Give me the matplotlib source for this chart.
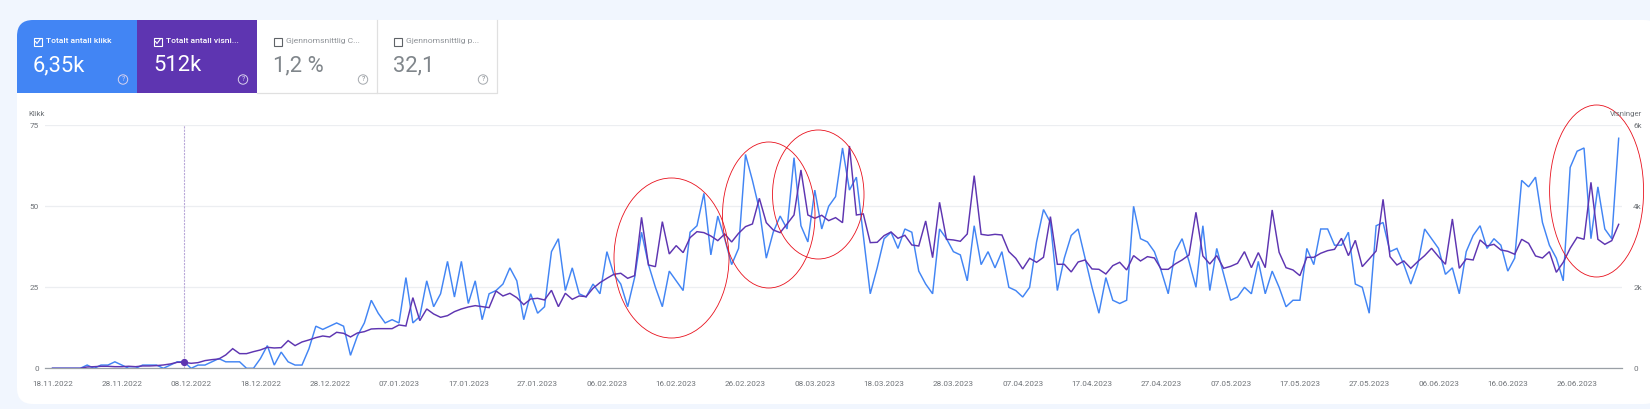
import matplotlib
matplotlib.use("Agg")
import matplotlib.pyplot as plt
from matplotlib.patches import Ellipse, FancyBboxPatch, Rectangle, Circle, PathPatch
from matplotlib.path import Path
import pandas as pd

plt.rcParams['font.family'] = ['Roboto', 'DejaVu Sans']

klikk = [0,0,0,0,0,1,0,1,1,2,1,0,0,1,1,1,0,1,2,2,0,1,1,2,3,2,2,2,0,0,3,7,1,5,2,1,1,6,13,12,
         13,14,13,4,10,14,21,17,14,15,14,28,14,16,27,19,23,33,22,33,20,27,15,23,24,26,31,27,15,23,
         17,19,36,40,24,31,23,22,26,23,36,29,26,19,28,42,32,25,19,30,27,24,42,44,54,35,47,40,32,37,
         66,58,49,34,42,47,43,65,44,39,55,43,50,53,68,55,59,41,23,31,40,42,37,43,42,30,26,23,43,40,
         36,35,27,44,32,36,31,36,25,24,22,25,39,49,45,24,34,41,43,34,25,17,28,21,20,21,50,40,39,36,
         30,23,36,40,33,25,44,24,37,29,21,22,25,23,33,23,30,25,19,21,21,37,32,43,43,38,38,42,26,25,
         17,44,45,36,37,32,26,32,43,40,37,29,31,23,36,41,44,37,40,38,30,34,58,56,59,45,38,34,27,62,
         67,68,40,56,43,40,71]
visninger = [0,0,0,0,0,33,40,50,50,40,40,50,40,58,58,66,82,107,148,148,123,140,190,214,230,330,485,362,362,411,
             453,518,502,510,683,560,650,700,757,798,774,889,864,774,872,905,971,979,979,979,1070,1045,1745,1177,1465,1341,1259,1300,1399,1465,
             1514,1547,1522,1498,1909,1786,1852,1745,1572,1712,1728,1687,1926,1522,1852,1704,1786,1770,1975,2115,2222,2321,2346,2222,2288,3728,2551,2510,3621,2823,
             3029,2856,3226,3374,3350,3267,3152,3317,3119,3333,3498,3564,4197,3596,3415,3350,3564,3786,4897,3786,3704,3778,3646,3720,3596,5489,3786,3811,3103,3111,
             3276,3366,3210,3284,3045,3020,3638,2732,4099,3185,3169,3136,3317,4757,3308,3284,3308,3292,2881,2716,2453,2716,2617,2741,3745,2568,2568,2379,2625,2675,
             2453,2444,2329,2535,2617,2428,2782,2650,2757,2724,2444,2444,2576,2675,2798,3852,2774,2576,2782,2469,2518,2592,2880,2485,2856,2485,3909,2864,2485,2428,
             2288,2740,2740,2840,2905,2938,3210,2782,3160,2510,2700,2897,4172,2757,2551,2650,2469,2634,2782,2963,2757,2568,3687,2469,2700,2675,3169,3020,3061,2922,
             2889,2815,3185,3086,2774,2724,2880,2370,2617,2963,3234,3185,4592,3185,3061,3152,3555]
start_date = "2022-11-18"
tick_step_days = 10
hover_index = 19
left_ticks = [0, 25, 50, 75]
right_ticks = [0, 2000, 4000, 6000]
right_labels = ["0", "2k", "4k", "6k"]
tile_titles = ["Totalt antall klikk", "Totalt antall visni...", "Gjennomsnittlig C...", "Gjennomsnittlig p..."]
tile_values = ["6,35k", "512k", "1,2 %", "32,1"]

BG = "#f1f6fe"; BLUE = "#4285f4"; PURPLE = "#5e35b1"; GREY = "#6f7378"; BORDER = "#e0e0e0"
W, H = 1650, 409
fig = plt.figure(figsize=(W/100, H/100), dpi=100, facecolor=BG)

def px_axes(z):
    a = fig.add_axes([0, 0, 1, 1], zorder=z)
    a.set_xlim(0, W); a.set_ylim(H, 0); a.axis("off"); a.patch.set_alpha(0)
    return a

back = px_axes(0)
back.add_patch(FancyBboxPatch((17+16, 20+16), W-17-32+10, 404-20-32, boxstyle="round,pad=16",
                              fc="white", ec="none"))
# tiles
tile_x = [17, 137, 257, 377]
tile_w = 120
tile_top, tile_bot = 20, 93
r = 16
v = [(17, tile_bot), (17, tile_top+r), (17, tile_top), (17+r, tile_top), (137, tile_top), (137, tile_bot), (17, tile_bot)]
c = [Path.MOVETO, Path.LINETO, Path.CURVE3, Path.CURVE3, Path.LINETO, Path.LINETO, Path.CLOSEPOLY]
back.add_patch(PathPatch(Path(v, c), fc=BLUE, ec="none"))
back.add_patch(Rectangle((137, tile_top), tile_w, tile_bot-tile_top, fc=PURPLE, ec="none"))
for x0 in tile_x[2:]:
    back.plot([x0, x0+tile_w-0.5, x0+tile_w-0.5], [tile_bot-0.5, tile_bot-0.5, tile_top], color=BORDER, lw=0.9)
for i, x0 in enumerate(tile_x):
    on = i < 2
    col = "white" if on else "#80868b"
    back.add_patch(Rectangle((x0+16.5, 37.5), 8, 8, fc="none", ec="white" if on else "#5f6368", lw=0.8))
    if on:
        back.plot([x0+18.5, x0+20, x0+23], [41.5, 43.5, 39.5], color="white", lw=0.8)
    back.text(x0+29, 41, tile_titles[i], color="white" if on else "#8f9398", fontsize=6.1,
              fontweight="medium" if on else "normal", va="center", ha="left")
    back.text(x0+16, 65.5, tile_values[i], color=col, fontsize=15.8, va="center", ha="left")
    back.add_patch(Circle((x0+106, 79.5), 4.7, fc="none", ec="#d9d2ee" if on else "#a5a9ae", lw=0.7))
    back.text(x0+106, 79.6, "?", color="#d9d2ee" if on else "#80868b", fontsize=5, ha="center", va="center")

# chart
L, R, T, B = 44.6, 1622, 125.3, 368.3
ax = fig.add_axes([L/W, 1-B/H, (R-L)/W, (B-T)/H], zorder=1)
ax.patch.set_alpha(0)
dates = pd.date_range(start_date, periods=len(klikk))
px_day = 6.93
x0_date = dates[0] - pd.Timedelta(days=(52.5-L)/px_day)
x1_date = dates[0] + pd.Timedelta(days=(R-52.5)/px_day)
ax.set_xlim(x0_date, x1_date)
ax.set_ylim(0, 75)
ax.set_yticks(left_ticks)
ax.grid(axis="y", color="#eceef1", lw=0.9)
ax.set_axisbelow(True)
for s in ["top", "right", "left"]:
    ax.spines[s].set_visible(False)
ax.spines["bottom"].set_color("#9aa0a6"); ax.spines["bottom"].set_linewidth(0.9)
ax.tick_params(axis="y", length=0, pad=4, labelsize=5.9, labelcolor=GREY)
ax.tick_params(axis="x", length=0, pad=9, labelsize=5.9, labelcolor=GREY)
ticks = dates[::tick_step_days]
ax.set_xticks(ticks)
ax.set_xticklabels([d.strftime("%d.%m.%Y") for d in ticks])
ax.plot(dates, klikk, color=BLUE, lw=1.05, zorder=3, solid_joinstyle="miter")

ax2 = ax.twinx()
ax2.set_ylim(0, 6000)
ax2.set_yticks(right_ticks)
ax2.set_yticklabels(right_labels)
for s in ax2.spines.values():
    s.set_visible(False)
ax2.tick_params(axis="y", length=0, pad=8, labelsize=5.9, labelcolor=GREY)
ax2.patch.set_alpha(0)
ax2.plot(dates, visninger, color=PURPLE, lw=1.05, zorder=4, solid_joinstyle="miter")
ax2.axvline(dates[hover_index], color="#b9a9d9", lw=0.8, ls=(0, (2, 1)), zorder=2)
ax2.plot([dates[hover_index]], [visninger[hover_index]], "o", color=PURPLE, ms=4.2, zorder=5)

top = px_axes(5)
top.text(28, 114, "Klikk", fontsize=5.6, color=GREY, va="center", ha="left")
top.text(1642, 114, "Visninger", fontsize=5.6, color=GREY, va="center", ha="right")
for x1, x2, y1, y2 in [(614, 729, 178, 338), (722.5, 815, 142, 288), (772.5, 864, 130, 259), (1549.6, 1643.6, 105, 277)]:
    top.add_patch(Ellipse(((x1+x2)/2, (y1+y2)/2), x2-x1, y2-y1, fc="none", ec="#e8101c", lw=0.6))

fig.savefig("out.png", dpi=100, facecolor=BG)
